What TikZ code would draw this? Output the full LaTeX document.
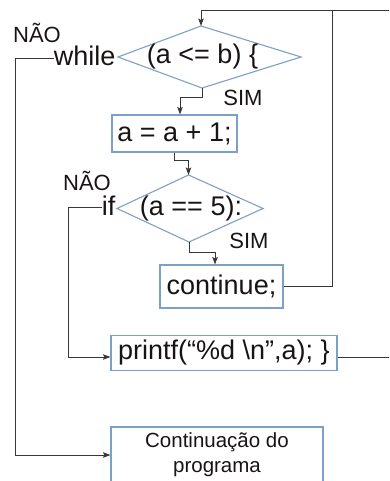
\documentclass[tikz,border=0pt]{standalone}
\usepackage{fontspec}
\setmainfont{Liberation Sans}
\usetikzlibrary{arrows.meta}
\definecolor{boxblue}{RGB}{125,160,200}
\definecolor{linegray}{RGB}{55,55,55}
\definecolor{txt}{RGB}{25,20,20}
\begin{document}
\begin{tikzpicture}[x=1pt,y=-1pt,
  codebox/.style={draw=boxblue,line width=1.1pt,inner sep=0pt,font=\fontsize{27}{32}\selectfont,text=txt},
  lbl/.style={font=\fontsize{22}{26}\selectfont,text=txt,inner sep=0pt},
  code/.style={font=\fontsize{27}{32}\selectfont,text=txt,inner sep=0pt},
  conn/.style={draw=linegray,line width=1pt},
  arr/.style={conn,-{Stealth[length=7.5pt,width=5.5pt,inset=1.5pt]}},
  dia/.style={draw=boxblue,line width=1.1pt}]
\useasboundingbox (0,0) rectangle (389,481);
\clip (0,0) rectangle (389,481);

% diamond 1
\coordinate (d1l) at (118,57);
\coordinate (d1t) at (201,26);
\coordinate (d1r) at (301,57);
\coordinate (d1b) at (202,88);
\draw[dia] (d1l) -- (d1t) -- (d1r) -- (d1b) -- cycle;
\node[code] (d1txt) at (202.5,57) {(a <= b) \{};

% diamond 2
\coordinate (d2l) at (117,208.5);
\coordinate (d2t) at (188.5,175);
\coordinate (d2r) at (263,208.5);
\coordinate (d2b) at (189,242);
\draw[dia] (d2l) -- (d2t) -- (d2r) -- (d2b) -- cycle;
\node[code] (d2txt) at (191,208.5) {(a == 5):};

% boxes
\node[codebox,minimum width=125pt,minimum height=37pt] (b1) at (174.5,133.5) {a = a + 1;};
\node[codebox,minimum width=123pt,minimum height=43pt] (cont) at (221.5,286.5) {continue;};
\node[codebox,minimum width=226pt,minimum height=35pt] (pf) at (224,353) {printf(“\%d \textbackslash n”,a); \}};
\node[draw=boxblue,line width=1.1pt,inner sep=0pt,minimum width=212pt,minimum height=56pt,
      align=center,text=txt,font=\fontsize{20.5}{25}\selectfont] (cb) at (217,455) {Continuação do\\programa};

% labels
\node[code,anchor=base east] (wh) at (115.5,65.5) {while};
\node[code,anchor=base east] (if) at (115.5,215.5) {if};
\node[lbl] (nao1) at (37,33) {NÃO};
\node[lbl] (sim1) at (243,98) {SIM};
\node[lbl] (nao2) at (87,181) {NÃO};
\node[lbl] (sim2) at (249,241) {SIM};

% external coordinates
\coordinate (topr) at (395,11);
\coordinate (jn) at (332,11);
\coordinate (pr) at (395,357);

% connectors
\draw[arr] (topr) -| (d1t);
\draw[conn] (cont.east) -| (jn);
\draw[conn] ([yshift=-4pt]pf.east) -- (pr);
\draw[arr] (d1b) -- ++(0,10) -| ([xshift=5.5pt]b1.north);
\draw[arr] (b1.south) -- ++(0,8) -| (d2t);
\draw[arr] (d2b) -- ++(0,10) -| ([xshift=-6.5pt]cont.north);
\draw[arr] ([yshift=-3pt]wh.west) -- ++(-38,0) |- (cb.west);
\draw[arr] ([yshift=-2pt]if.west) -- ++(-33,0) |- ([yshift=-4pt]pf.west);
\end{tikzpicture}
\end{document}
